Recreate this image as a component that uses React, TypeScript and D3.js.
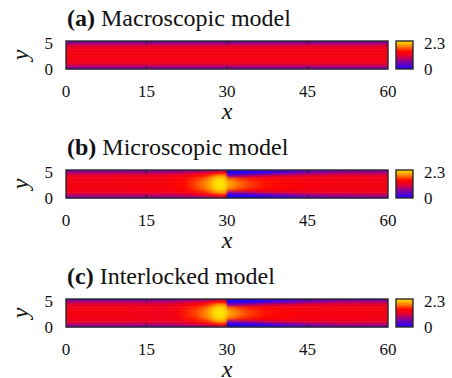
import React from "react";
import * as d3 from "d3";

// rows of the field, y from 0 to 5
const yRows = [0, 0.5, 1, 1.5, 2, 2.5, 3, 3.5, 4, 4.5, 5];

// (a) macroscopic: same profile along the whole channel
const macroX = [0, 60];
const macroGrid = [
  [0.4, 0.85, 1.15, 1.26, 1.29, 1.3, 1.29, 1.26, 1.15, 0.85, 0.4],
  [0.4, 0.85, 1.15, 1.26, 1.29, 1.3, 1.29, 1.26, 1.15, 0.85, 0.4],
];

// (b) microscopic
const microX = [0, 10, 18, 22, 24, 26, 27, 28, 29, 29.8, 30.2, 31, 32, 34, 37, 40, 45, 50, 60];
const microGrid = [
  [0.4, 0.85, 1.15, 1.26, 1.29, 1.3, 1.29, 1.26, 1.15, 0.85, 0.4],
  [0.4, 0.85, 1.15, 1.26, 1.29, 1.3, 1.29, 1.26, 1.15, 0.85, 0.4],
  [0.42, 0.9, 1.2, 1.3, 1.33, 1.34, 1.33, 1.3, 1.2, 0.9, 0.42],
  [0.45, 0.95, 1.28, 1.4, 1.45, 1.47, 1.45, 1.4, 1.28, 0.95, 0.45],
  [0.5, 1.05, 1.38, 1.55, 1.62, 1.65, 1.62, 1.55, 1.38, 1.05, 0.5],
  [0.6, 1.15, 1.55, 1.75, 1.85, 1.9, 1.85, 1.75, 1.55, 1.15, 0.6],
  [0.7, 1.28, 1.7, 1.95, 2.05, 2.1, 2.05, 1.95, 1.7, 1.28, 0.7],
  [0.8, 1.42, 1.9, 2.15, 2.25, 2.3, 2.25, 2.15, 1.9, 1.42, 0.8],
  [0.85, 1.5, 2.0, 2.2, 2.3, 2.3, 2.3, 2.2, 2.0, 1.5, 0.85],
  [0.75, 1.35, 1.85, 2.05, 2.15, 2.2, 2.15, 2.05, 1.85, 1.35, 0.75],
  [0.0, 0.05, 0.6, 1.75, 2.0, 2.05, 2.0, 1.75, 0.6, 0.05, 0.0],
  [0.0, 0.05, 0.65, 1.7, 1.9, 1.95, 1.9, 1.7, 0.65, 0.05, 0.0],
  [0.0, 0.06, 0.72, 1.6, 1.78, 1.82, 1.78, 1.6, 0.72, 0.06, 0.0],
  [0.0, 0.1, 0.82, 1.5, 1.62, 1.65, 1.62, 1.5, 0.82, 0.1, 0.0],
  [0.03, 0.22, 0.95, 1.4, 1.48, 1.5, 1.48, 1.4, 0.95, 0.22, 0.03],
  [0.12, 0.4, 1.05, 1.33, 1.4, 1.42, 1.4, 1.33, 1.05, 0.4, 0.12],
  [0.25, 0.65, 1.12, 1.27, 1.32, 1.34, 1.32, 1.27, 1.12, 0.65, 0.25],
  [0.35, 0.8, 1.15, 1.26, 1.3, 1.31, 1.3, 1.26, 1.15, 0.8, 0.35],
  [0.4, 0.85, 1.15, 1.26, 1.29, 1.3, 1.29, 1.26, 1.15, 0.85, 0.4],
];

// (c) interlocked: like (b) with a slight dip around x = 18
const interX = [0, 10, 15, 18, 21, 24, 26, 27, 28, 29, 29.8, 30.2, 31, 32, 34, 37, 40, 45, 50, 60];
const interGrid = [
  [0.4, 0.85, 1.15, 1.26, 1.29, 1.3, 1.29, 1.26, 1.15, 0.85, 0.4],
  [0.4, 0.85, 1.15, 1.26, 1.29, 1.3, 1.29, 1.26, 1.15, 0.85, 0.4],
  [0.4, 0.85, 1.13, 1.23, 1.25, 1.26, 1.25, 1.23, 1.13, 0.85, 0.4],
  [0.42, 0.87, 1.12, 1.2, 1.22, 1.22, 1.22, 1.2, 1.12, 0.87, 0.42],
  [0.45, 0.93, 1.2, 1.29, 1.33, 1.34, 1.33, 1.29, 1.2, 0.93, 0.45],
  [0.5, 1.05, 1.38, 1.55, 1.62, 1.65, 1.62, 1.55, 1.38, 1.05, 0.5],
  [0.6, 1.15, 1.55, 1.75, 1.85, 1.9, 1.85, 1.75, 1.55, 1.15, 0.6],
  [0.7, 1.28, 1.7, 1.95, 2.05, 2.1, 2.05, 1.95, 1.7, 1.28, 0.7],
  [0.8, 1.42, 1.9, 2.15, 2.25, 2.3, 2.25, 2.15, 1.9, 1.42, 0.8],
  [0.85, 1.5, 2.0, 2.2, 2.3, 2.3, 2.3, 2.2, 2.0, 1.5, 0.85],
  [0.75, 1.35, 1.85, 2.05, 2.15, 2.2, 2.15, 2.05, 1.85, 1.35, 0.75],
  [0.0, 0.05, 0.6, 1.75, 2.0, 2.05, 2.0, 1.75, 0.6, 0.05, 0.0],
  [0.0, 0.05, 0.65, 1.7, 1.9, 1.95, 1.9, 1.7, 0.65, 0.05, 0.0],
  [0.0, 0.06, 0.72, 1.6, 1.78, 1.82, 1.78, 1.6, 0.72, 0.06, 0.0],
  [0.0, 0.1, 0.82, 1.5, 1.62, 1.65, 1.62, 1.5, 0.82, 0.1, 0.0],
  [0.03, 0.22, 0.95, 1.4, 1.48, 1.5, 1.48, 1.4, 0.95, 0.22, 0.03],
  [0.12, 0.4, 1.05, 1.33, 1.4, 1.42, 1.4, 1.33, 1.05, 0.4, 0.12],
  [0.25, 0.65, 1.12, 1.27, 1.32, 1.34, 1.32, 1.27, 1.12, 0.65, 0.25],
  [0.35, 0.8, 1.15, 1.26, 1.3, 1.31, 1.3, 1.26, 1.15, 0.8, 0.35],
  [0.4, 0.85, 1.15, 1.26, 1.29, 1.3, 1.29, 1.26, 1.15, 0.85, 0.4],
];

const panelTags = ["(a)", "(b)", "(c)"];
const panelNames = ["Macroscopic model", "Microscopic model", "Interlocked model"];
const xTicks = [0, 15, 30, 45, 60];
const yTicks = [0, 5];
const cbTicks = [0, 2.3];

// palette: blue - purple - red - orange - yellow
const paletteValues = [0, 0.6, 1.1, 1.45, 1.85, 2.3];
const paletteColours = ["#1c00ff", "#8400a0", "#e8002a", "#ff0500", "#ff8000", "#ffe600"];

const colour = d3.scaleLinear<string>().domain(paletteValues).range(paletteColours);

const txtStyle = { fontFamily: '"Liberation Serif", Times, serif', fill: "#111" };

const x = d3.scaleLinear().domain([0, 60]).range([66, 388]);
const y = d3.scaleLinear().domain([0, 5]).range([69, 41]);
const cbY = d3.scaleLinear().domain([0, 2.3]).range([69, 41]);
const CB_X0 = 396;
const CB_X1 = 413;
const PANEL_STEP = 129;

const panels = [
  { xs: macroX, grid: macroGrid },
  { xs: microX, grid: microGrid },
  { xs: interX, grid: interGrid },
];

function Panel({ idx }: { idx: number }) {
  const { xs, grid } = panels[idx];
  const w = x(60) - x(0);
  return (
    <g transform={`translate(0,${idx * PANEL_STEP})`}>
      <defs>
        {yRows.map((_, r) => (
          <linearGradient
            key={r}
            id={`row-${idx}-${r}`}
            gradientUnits="userSpaceOnUse"
            x1={x(0)}
            x2={x(60)}
            y1={0}
            y2={0}
          >
            {xs.map((xv, c) => (
              <stop key={c} offset={xv / 60} stopColor={colour(grid[c][r])} />
            ))}
          </linearGradient>
        ))}
      </defs>
      {/* each band: lower row underneath, upper row faded in towards the top */}
      {yRows.slice(0, -1).map((yv, r) => {
        const top = y(yRows[r + 1]);
        const h = y(yv) - top;
        return (
          <g key={r}>
            <rect x={x(0)} y={top} width={w} height={h + 0.4} fill={`url(#row-${idx}-${r})`} />
            <rect
              x={x(0)}
              y={top}
              width={w}
              height={h + 0.4}
              fill={`url(#row-${idx}-${r + 1})`}
              mask="url(#fadeUp)"
            />
          </g>
        );
      })}
      {/* inner ticks */}
      {xTicks.slice(1, -1).map((t) => (
        <g key={t} stroke="#222" strokeWidth={1.2}>
          <line x1={x(t)} x2={x(t)} y1={y(5)} y2={y(5) + 3} />
          <line x1={x(t)} x2={x(t)} y1={y(0)} y2={y(0) - 3} />
        </g>
      ))}
      <rect
        x={x(0)}
        y={y(5)}
        width={w}
        height={y(0) - y(5)}
        fill="none"
        stroke="#2a2a2a"
        strokeWidth={1.4}
      />
      {/* colour bar */}
      <rect
        x={CB_X0}
        y={cbY(2.3)}
        width={CB_X1 - CB_X0}
        height={cbY(0) - cbY(2.3)}
        fill="url(#cbgrad)"
        stroke="#2a2a2a"
        strokeWidth={1.4}
      />
      {/* title */}
      <text x={67} y={26} style={{ ...txtStyle, fontSize: 24 }}>
        <tspan fontWeight="bold">{panelTags[idx]}</tspan>
        <tspan> {panelNames[idx]}</tspan>
      </text>
      {yTicks.map((t) => (
        <text
          key={t}
          x={53}
          y={y(t)}
          dy={t === 0 ? 6 : 8}
          textAnchor="end"
          style={{ ...txtStyle, fontSize: 17 }}
        >
          {t}
        </text>
      ))}
      {cbTicks.map((t) => (
        <text key={t} x={424} y={cbY(t)} dy={t === 0 ? 6 : 8} style={{ ...txtStyle, fontSize: 17 }}>
          {t}
        </text>
      ))}
      {xTicks.map((t) => (
        <text key={t} x={x(t)} y={97} textAnchor="middle" style={{ ...txtStyle, fontSize: 17 }}>
          {t}
        </text>
      ))}
      <text
        x={(x(0) + x(60)) / 2}
        y={119}
        textAnchor="middle"
        style={{ ...txtStyle, fontSize: 24, fontStyle: "italic" }}
      >
        x
      </text>
      <text
        transform={`translate(28,${(y(0) + y(5)) / 2}) rotate(-90)`}
        textAnchor="middle"
        style={{ ...txtStyle, fontSize: 24, fontStyle: "italic" }}
      >
        y
      </text>
    </g>
  );
}

export default function App() {
  return (
    <svg width={452} height={378} style={{ position: "absolute", left: 0, top: 0 }}>
      <defs>
        <linearGradient id="vfade" x1={0} y1={0} x2={0} y2={1}>
          <stop offset={0} stopColor="#fff" />
          <stop offset={1} stopColor="#000" />
        </linearGradient>
        <mask id="fadeUp" maskContentUnits="objectBoundingBox">
          <rect x={0} y={0} width={1} height={1} fill="url(#vfade)" />
        </mask>
        <linearGradient id="cbgrad" x1={0} y1={1} x2={0} y2={0}>
          {paletteValues.map((v, i) => (
            <stop key={i} offset={v / 2.3} stopColor={paletteColours[i]} />
          ))}
        </linearGradient>
      </defs>
      {panels.map((_, i) => (
        <Panel key={i} idx={i} />
      ))}
    </svg>
  );
}
